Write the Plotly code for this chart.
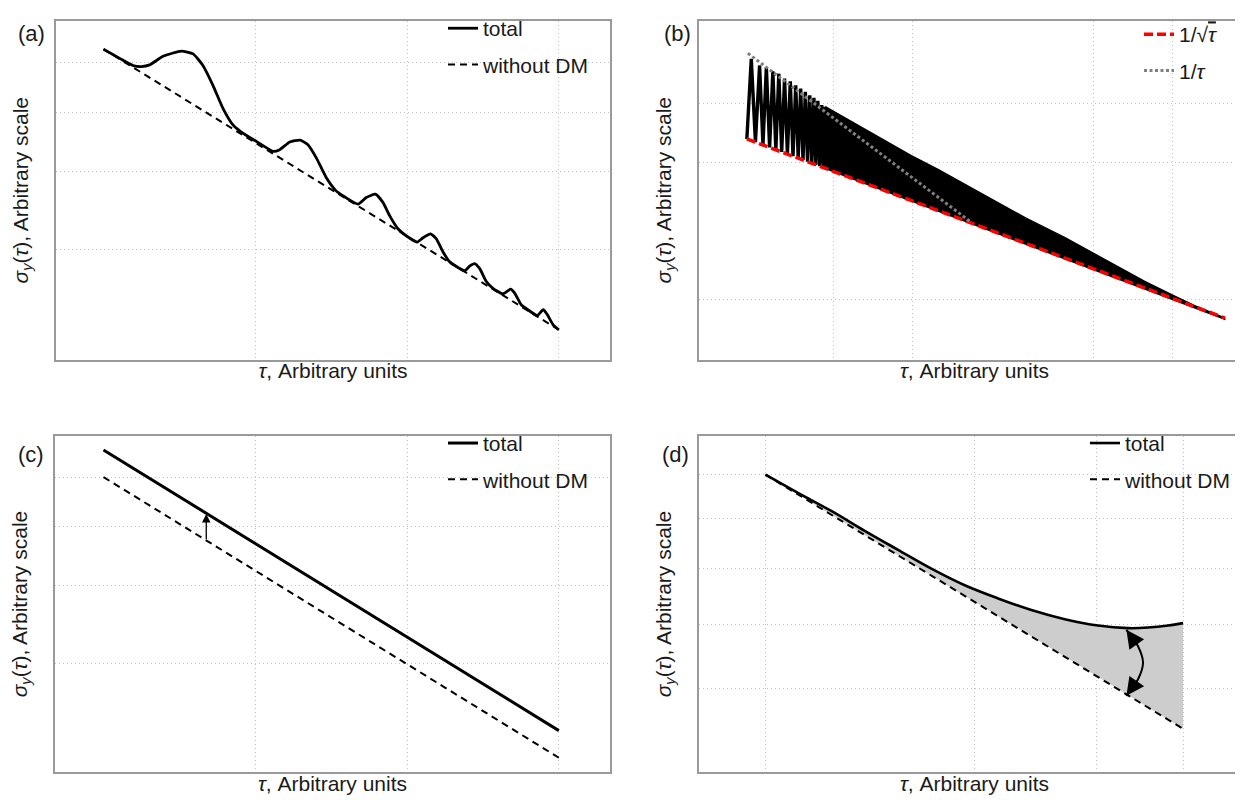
import plotly.graph_objects as go

FONT = "Liberation Sans, Arial, Helvetica, sans-serif"
INK = "#1a1a1a"

# ---------------- data: x = log10(tau), y = log10(sigma_y), arbitrary units ----------------
# (a) total with damped bumps, and the straight "without DM" line
a_total_x = [0.000, 0.107, 0.194, 0.249, 0.304, 0.392, 0.513, 0.590, 0.655, 0.721,
             0.787, 0.853, 0.908, 1.007, 1.117, 1.161, 1.227, 1.296, 1.347, 1.402,
             1.468, 1.523, 1.545, 1.677, 1.731, 1.791, 1.841, 1.885, 1.940, 2.006,
             2.067, 2.105, 2.155, 2.192, 2.237, 2.281, 2.379, 2.412, 2.445, 2.478,
             2.522, 2.566, 2.632, 2.682, 2.709, 2.752, 2.796, 2.858, 2.897, 2.924,
             2.961, 3.000]
a_total_y = [0.000, -0.049, -0.087, -0.093, -0.084, -0.038, -0.010, -0.025, -0.087, -0.193,
             -0.316, -0.405, -0.443, -0.493, -0.546, -0.537, -0.496, -0.486, -0.511, -0.581,
             -0.687, -0.749, -0.766, -0.828, -0.793, -0.775, -0.819, -0.890, -0.960, -1.004,
             -1.031, -1.008, -0.987, -1.013, -1.084, -1.137, -1.184, -1.160, -1.146, -1.172,
             -1.242, -1.278, -1.308, -1.283, -1.304, -1.366, -1.393, -1.424, -1.393, -1.419,
             -1.472, -1.500]
a_nodm_x = [0.0, 3.0]
a_nodm_y = [0.0, -1.5]
a_grid_x = [1, 2, 3]
a_grid_y = [-0.073, -0.338, -0.652, -1.071]

# (b) oscillating signal: resolved spikes, then the dense band; 1/sqrt(tau) and 1/tau guides
b_spike_x = [-0.335, -0.318, -0.302, -0.286, -0.273, -0.260, -0.2475, -0.235, -0.2235, -0.212,
             -0.201, -0.190, -0.179, -0.168, -0.1575, -0.147, -0.1375, -0.128, -0.119, -0.110,
             -0.1015, -0.093, -0.085, -0.077, -0.0695, -0.062, -0.0545, -0.047, -0.040, -0.0335]
b_spike_y = [-0.183, 0.226, -0.1994, 0.192, -0.2138, 0.183, -0.2265, 0.162, -0.2384, 0.150,
             -0.2496, 0.125, -0.2605, 0.111, -0.2712, 0.091, -0.2812, 0.074, -0.2904, 0.057,
             -0.2991, 0.040, -0.3073, 0.027, -0.3150, 0.012, -0.3224, -0.010, -0.3296, -0.019]
b_band_x = [-0.0335, 0.105, 0.195, 0.2973, 0.400, 0.5154, 0.6181, 0.7365, 0.8885, 1.0423,
            1.195, 1.3104, 1.3873, 1.5027, 1.5027, -0.040]
b_band_y = [-0.0187, -0.1212, -0.1919, -0.2677, -0.3384, -0.4242, -0.500, -0.5859, -0.6869, -0.798,
            -0.9091, -0.9848, -1.0328, -1.096, -1.102, -0.3296]
b_sqrt_x = [-0.335, 1.503]
b_sqrt_y = [-0.183, -1.096]
b_inv_x = [-0.331, 0.528]
b_inv_y = [0.254, -0.608]
b_grid_x = [0, 0.301, 1, 1.301]
b_grid_y = [0, -0.301, -1]

# (c) parallel shift
c_total_x = [0.0, 3.0]
c_total_y = [0.0, -1.5]
c_nodm_x = [0.0, 3.0]
c_nodm_y = [-0.145, -1.645]
c_arrow_x = 0.677
c_arrow_tail = -0.486
c_arrow_tip = -0.342
c_grid_x = [1, 2, 3]
c_grid_y = [-0.145, -0.410, -0.727, -1.141]

# (d) slope change
d_total_x = [0.0, 0.0468, 0.0948, 0.1429, 0.1909, 0.2389, 0.2870, 0.3350, 0.3830, 0.4311,
             0.4791, 0.5223, 0.5512, 0.5800, 0.6016]
d_total_y = [0.0, -0.0189, -0.0376, -0.0582, -0.0779, -0.0974, -0.1146, -0.1282, -0.1402, -0.1497,
             -0.1563, -0.1590, -0.1584, -0.1563, -0.1538]
d_nodm_x = [0.0, 0.6016]
d_nodm_y = [0.0, -0.2633]
d_arc_x = [0.5199, 0.5367, 0.5439, 0.5367, 0.5199]
d_arc_y = [-0.1607, -0.1778, -0.1949, -0.2120, -0.2291]
d_grid_x = [0, 0.301, 0.477, 0.602]
d_grid_y = [0, -0.0458, -0.0969, -0.1549, -0.2218]

# ---------------- figure ----------------
fig = go.Figure()

DASHED = dict(color="black", width=2, dash="7px,5px")

# (a)
fig.add_trace(go.Scatter(x=a_nodm_x, y=a_nodm_y, mode="lines", line=DASHED, name="without DM",
                         xaxis="x", yaxis="y", legend="legend", legendgroup="a2", legendrank=2))
fig.add_trace(go.Scatter(x=a_total_x, y=a_total_y, mode="lines", name="total",
                         line=dict(color="black", width=2.8, shape="spline", smoothing=0.5),
                         xaxis="x", yaxis="y", legend="legend", legendgroup="a1", legendrank=1))

# (b)
fig.add_trace(go.Scatter(x=b_spike_x, y=b_spike_y, mode="lines", line=dict(color="black", width=3.4),
                         showlegend=False, xaxis="x2", yaxis="y2"))
fig.add_trace(go.Scatter(x=b_band_x, y=b_band_y, mode="lines", fill="toself", fillcolor="black",
                         line=dict(color="black", width=1.5), showlegend=False, xaxis="x2", yaxis="y2"))
fig.add_trace(go.Scatter(x=b_sqrt_x, y=b_sqrt_y, mode="lines",
                         name="1/√<span style=\"text-decoration:overline\"><i>τ</i></span>",
                         line=dict(color="#ff0000", width=3.5, dash="9px,4px"),
                         xaxis="x2", yaxis="y2", legend="legend2", legendgroup="b1", legendrank=1))
fig.add_trace(go.Scatter(x=b_inv_x, y=b_inv_y, mode="lines", name="1/<i>τ</i>",
                         line=dict(color="#808080", width=3, dash="3px,2.5px"),
                         xaxis="x2", yaxis="y2", legend="legend2", legendgroup="b2", legendrank=2))

# (c)
fig.add_trace(go.Scatter(x=c_total_x, y=c_total_y, mode="lines", line=dict(color="black", width=3),
                         name="total", xaxis="x3", yaxis="y3", legend="legend3", legendgroup="c1",
                         legendrank=1))
fig.add_trace(go.Scatter(x=c_nodm_x, y=c_nodm_y, mode="lines", line=DASHED, name="without DM",
                         xaxis="x3", yaxis="y3", legend="legend3", legendgroup="c2", legendrank=2))

# (d)
fig.add_trace(go.Scatter(x=d_nodm_x, y=d_nodm_y, mode="lines", line=dict(width=0),
                         showlegend=False, hoverinfo="skip", xaxis="x4", yaxis="y4"))
fig.add_trace(go.Scatter(x=d_total_x, y=d_total_y, mode="lines", fill="tonexty", fillcolor="#cdcdcd",
                         line=dict(width=0, shape="spline"), showlegend=False, hoverinfo="skip",
                         xaxis="x4", yaxis="y4"))
fig.add_trace(go.Scatter(x=d_nodm_x, y=d_nodm_y, mode="lines", line=DASHED, name="without DM",
                         xaxis="x4", yaxis="y4", legend="legend4", legendgroup="d2", legendrank=2))
fig.add_trace(go.Scatter(x=d_total_x, y=d_total_y, mode="lines", name="total",
                         line=dict(color="black", width=2.6, shape="spline"),
                         xaxis="x4", yaxis="y4", legend="legend4", legendgroup="d1", legendrank=1))
fig.add_trace(go.Scatter(x=d_arc_x, y=d_arc_y, mode="lines", line=dict(color="black", width=2, shape="spline"),
                         showlegend=False, xaxis="x4", yaxis="y4"))

W, H = 1243, 800


def xdom(l, r):
    return [l / W, r / W]


def ydom(t, b):
    return [1 - b / H, 1 - t / H]


def axis(domain, rng, ticks, anchor, title, standoff):
    return dict(domain=domain, range=rng, tickvals=ticks, showticklabels=False, ticks="",
                showgrid=True, gridcolor="#c4c4c4", griddash="1px,3px", gridwidth=1,
                zeroline=False, showline=True, mirror=True, linecolor="#9a9a9a", linewidth=1.5,
                anchor=anchor, fixedrange=True,
                title=dict(text=title, font=dict(family=FONT, size=21, color=INK), standoff=standoff))


XT = "<i>τ</i>, Arbitrary units"
YT = "<i>σ</i><sub><i>y</i></sub>(<i>τ</i>), Arbitrary scale"


def legend(xpx, ypx):
    return dict(x=xpx / W, y=1 - ypx / H, xanchor="left", yanchor="top",
                bgcolor="rgba(0,0,0,0)", borderwidth=0, traceorder="grouped", tracegroupgap=6,
                font=dict(family=FONT, size=21, color=INK))


def label(txt, xpx, ypx):
    return dict(text=txt, x=xpx / W, y=1 - ypx / H, xref="paper", yref="paper",
                xanchor="left", yanchor="middle", showarrow=False,
                font=dict(family=FONT, size=22, color=INK))


XS, YS = 3, 20
fig.update_layout(
    width=W, height=H, margin=dict(l=0, r=0, t=0, b=0),
    paper_bgcolor="white", plot_bgcolor="white",
    font=dict(family=FONT, size=21, color=INK),
    xaxis=axis(xdom(48, 602), [-0.313, 3.337], a_grid_x, "y", XT, XS),
    yaxis=axis(ydom(5, 347), [-1.659, 0.151], a_grid_y, "x", YT, YS),
    xaxis2=axis(xdom(691, 1242), [-0.519, 1.6], b_grid_x, "y2", XT, XS),
    yaxis2=axis(ydom(5, 347), [-1.308, 0.419], b_grid_y, "x2", YT, YS),
    xaxis3=axis(xdom(47, 602), [-0.3195, 3.337], c_grid_x, "y3", XT, XS),
    yaxis3=axis(ydom(424, 764), [-1.723, 0.0757], c_grid_y, "x3", YT, YS),
    xaxis4=axis(xdom(691, 1242), [-0.0958, 0.698], d_grid_x, "y4", XT, XS),
    yaxis4=axis(ydom(424, 764), [-0.3084, 0.0403], d_grid_y, "x4", YT, YS),
    legend=legend(435, -8),
    legend2=legend(1131, -2),
    legend3=legend(435, 411),
    legend4=legend(1077, 411),
    annotations=[
        label("(a)", 8, 18), label("(b)", 654, 18), label("(c)", 8, 443), label("(d)", 652, 443),
        dict(x=c_arrow_x, y=c_arrow_tip, ax=c_arrow_x, ay=c_arrow_tail, xref="x3", yref="y3",
             axref="x3", ayref="y3", text="", showarrow=True, arrowhead=2, arrowsize=1.3,
             arrowwidth=1.3, arrowcolor="black"),
        dict(x=d_arc_x[0], y=d_arc_y[0], ax=d_arc_x[1], ay=d_arc_y[1], xref="x4", yref="y4",
             axref="x4", ayref="y4", text="", showarrow=True, arrowhead=2, arrowsize=1.8,
             arrowwidth=2, arrowcolor="black"),
        dict(x=d_arc_x[-1], y=d_arc_y[-1], ax=d_arc_x[-2], ay=d_arc_y[-2], xref="x4", yref="y4",
             axref="x4", ayref="y4", text="", showarrow=True, arrowhead=2, arrowsize=1.8,
             arrowwidth=2, arrowcolor="black"),
    ],
)

fig.write_html("out.html")
